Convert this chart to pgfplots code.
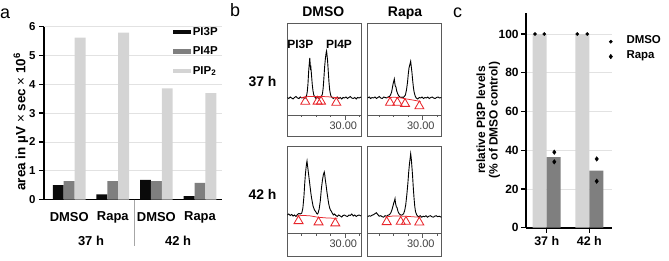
\documentclass[border=0pt]{standalone}
\usepackage{pgfplots}
\pgfplotsset{compat=1.18}
\usepackage{fontspec}
\setmainfont{Liberation Sans}

\definecolor{barblack}{HTML}{0A0A0A}
\definecolor{bargray}{HTML}{7F7F7F}
\definecolor{barlight}{HTML}{D4D4D4}
\definecolor{gridgray}{HTML}{E2E2E2}
\definecolor{peakred}{HTML}{E8252B}
\definecolor{framegray}{HTML}{5A5A5A}

\newcommand{\fs}[1]{\fontsize{#1}{#1}\selectfont}

\pgfplotsset{
  % upper part of a chromatogram box: the trace
  chrom/.style={scale only axis, anchor=south west, width=73.7bp,
    xtick=\empty, ytick=\empty,
    axis line style={framegray, line width=0.8bp}},
  % lower strip of a chromatogram box: the time scale
  strip/.style={scale only axis, anchor=south west, width=73.7bp,
    ymin=0, ymax=1, ytick=\empty,
    xtick={30}, xticklabels={30.00}, minor xtick={24,26,28,32},
    xtick pos=right, xticklabel pos=right, tick align=inside,
    major tick length=5bp, minor tick length=2.5bp,
    tick style={framegray, line width=0.7bp},
    xticklabel style={anchor=north, yshift=-3bp, xshift=-2bp, font=\fs{11}, text=black!75},
    axis line style={framegray, line width=0.8bp}},
  trace/.style={black, line width=0.9bp},
  redbase/.style={peakred, line width=0.75bp},
  redmarks/.style={peakred, only marks, mark=triangle, mark size=5.2bp,
    mark options={line width=0.85bp}},
}

\begin{document}
\begin{tikzpicture}
\useasboundingbox (0,0) rectangle (669bp,261bp);

% panel letters
\node[font=\fs{18}, anchor=base west, inner sep=0pt] at (0bp,242.7bp) {a};
\node[font=\fs{18}, anchor=base west, inner sep=0pt] at (230bp,244bp) {b};
\node[font=\fs{18}, anchor=base west, inner sep=0pt] at (453bp,243.5bp) {c};

% ---------------- panel a: peak areas ----------------
\begin{axis}[
  at={(44bp,61.5bp)}, anchor=south west, scale only axis,
  width=177.7bp, height=172.8bp, clip=false,
  xmin=0.422, xmax=4.498, ymin=0, ymax=6,
  axis lines=left, axis line style={-, line width=1.6bp},
  xtick={1,2,3,4}, xticklabels={DMSO,Rapa,DMSO,Rapa},
  xtick style={draw=none},
  ytick={0,...,6},
  tick align=outside, major tick length=5bp,
  ytick style={line width=1.3bp, black},
  ymajorgrids, grid style={gridgray, line width=0.7bp},
  /pgf/number format/assume math mode=true,
  yticklabel style={font=\bfseries\fs{11.5}},
  xticklabel style={font=\bfseries\fs{13}, yshift=-4bp},
  ylabel={area in µV {\mdseries ×} sec {\mdseries ×} 10\textsuperscript{6}},
  ylabel style={font=\bfseries\fs{13.5}, at={(axis description cs:-0.13,0.45)}, anchor=center},
  legend style={draw=none, fill=none, at={(axis description cs:0.707,1.02)}, anchor=north west,
    font=\bfseries\fs{11.5}, row sep=6bp},
  legend cell align=left,
  legend image code/.code={\fill[#1] (0bp,-2.2bp) rectangle (18bp,2.2bp);},
]
\addplot[ybar, bar width=10.9bp, bar shift=-10.9bp, fill=barblack, draw=none]
  coordinates {(1,0.50) (2,0.18) (3,0.68) (4,0.12)};
\addlegendentry{PI3P}
\addplot[ybar, bar width=10.9bp, bar shift=0bp, fill=bargray, draw=none]
  coordinates {(1,0.64) (2,0.64) (3,0.64) (4,0.58)};
\addlegendentry{PI4P}
\addplot[ybar, bar width=10.9bp, bar shift=10.9bp, fill=barlight, draw=none]
  coordinates {(1,5.62) (2,5.79) (3,3.86) (4,3.69)};
\addlegendentry{PIP\textsubscript{2}}
% time-point separator and group labels
\draw[gray!70, line width=0.6bp] (axis cs:2.5,0) -- ++(0bp,-46bp);
\node[font=\bfseries\fs{13}, anchor=base] at (axis cs:1.5,0) [yshift=-45.5bp] {37 h};
\node[font=\bfseries\fs{13}, anchor=base] at (axis cs:3.5,0) [yshift=-45.5bp] {42 h};
\end{axis}

% ---------------- panel b: chromatograms ----------------
\node[font=\bfseries\fs{14}, anchor=base] at (323.3bp,244.3bp) {DMSO};
\node[font=\bfseries\fs{14}, anchor=base] at (405bp,244.3bp) {Rapa};
\node[font=\bfseries\fs{14}, anchor=base] at (262.5bp,174.3bp) {37 h};
\node[font=\bfseries\fs{14}, anchor=base] at (262.5bp,61bp) {42 h};

% DMSO, 37 h
\begin{axis}[chrom, at={(287.3bp,146bp)}, height=91.7bp,
  xmin=22, xmax=32.17, ymin=-17, ymax=74.7]
\addplot[trace] coordinates {(22.0,0.5) (22.2,-0.5) (22.4,1) (22.6,0) (22.8,-1) (23.0,0.5) (23.2,1.5) (23.4,0) (23.6,-0.5) (23.8,1) (24.0,0) (24.2,0.5) (24.4,-0.5) (24.55,0.5) (24.65,2) (24.75,6) (24.85,14) (24.95,27) (25.05,36) (25.1,40) (25.15,35) (25.2,30) (25.25,31) (25.35,22) (25.45,13) (25.55,7) (25.65,3) (25.8,1) (25.95,-0.5) (26.1,0.5) (26.25,0) (26.4,-0.5) (26.55,0.5) (26.7,1.5) (26.85,4) (26.95,10) (27.05,20) (27.15,31) (27.25,39) (27.35,45) (27.42,47) (27.48,43) (27.55,38) (27.65,27) (27.75,16) (27.85,8) (27.95,4) (28.05,1.5) (28.2,0.5) (28.35,-0.5) (28.5,0.5) (28.7,0) (28.9,1) (29.1,-0.5) (29.3,0.5) (29.5,-1) (29.7,0.5) (29.9,0) (30.1,1) (30.3,-0.5) (30.5,0.5) (30.7,1.5) (30.9,0) (31.1,-0.5) (31.3,0.5) (31.5,-1) (31.7,0.5) (31.9,0) (32.17,1)};
\addplot[redbase] coordinates {(23.9,0.3) (24.6,1.3) (25.5,1.6) (26.5,1.5) (27.5,1.3) (28.5,0.6) (29.3,0)};
\addplot[redmarks] coordinates {(24.48,-3.7) (26.18,-3.5) (26.65,-3.5) (28.76,-4.7)};
\end{axis}
\begin{axis}[strip, at={(287.3bp,124.3bp)}, height=21.7bp, xmin=22, xmax=32.17]
\end{axis}
\node[font=\bfseries\fs{12}, anchor=base] at (300.3bp,212.7bp) {PI3P};
\node[font=\bfseries\fs{12}, anchor=base] at (339bp,212.7bp) {PI4P};

% Rapa, 37 h
\begin{axis}[chrom, at={(367.7bp,146bp)}, height=91.7bp,
  xmin=22.4, xmax=32.57, ymin=-17, ymax=74.7]
\addplot[trace] coordinates {(22.4,0) (22.6,1) (22.8,-0.5) (23.0,0.5) (23.2,0) (23.4,1) (23.6,-0.5) (23.8,0.5) (24.0,1.5) (24.2,0) (24.4,-0.5) (24.6,1) (24.8,0.5) (25.0,0) (25.2,1) (25.4,1.5) (25.55,3) (25.7,6) (25.8,10) (25.9,14) (26.0,17) (26.07,19) (26.12,16) (26.2,12) (26.3,11) (26.4,7) (26.55,4) (26.7,2) (26.85,1) (27.0,0.5) (27.15,1) (27.3,0.5) (27.45,1.5) (27.6,3) (27.75,8) (27.9,16) (28.0,24) (28.1,30) (28.2,33) (28.27,35) (28.33,36.7) (28.4,32) (28.5,26) (28.6,18) (28.7,11) (28.8,6) (28.95,2) (29.1,0) (29.3,-1) (29.5,0.5) (29.7,0) (29.9,1) (30.1,-0.5) (30.3,0.5) (30.5,0) (30.7,1) (30.9,-0.5) (31.1,0.5) (31.3,1) (31.5,0) (31.7,-0.5) (31.9,0.5) (32.1,1) (32.3,0) (32.57,0.5)};
\addplot[redbase] coordinates {(25.1,0.3) (26.0,0.8) (26.8,0.3) (27.6,-0.8) (28.6,-2) (29.7,-3.5)};
\addplot[redmarks] coordinates {(25.48,-4.6) (26.49,-4.6) (27.55,-5.8) (29.53,-8.2)};
\end{axis}
\begin{axis}[strip, at={(367.7bp,124.3bp)}, height=21.7bp, xmin=22.4, xmax=32.57]
\end{axis}

% DMSO, 42 h
\begin{axis}[chrom, at={(287.3bp,27.7bp)}, height=86.6bp,
  xmin=22, xmax=32.17, ymin=-17.3, ymax=69.3]
\addplot[trace] coordinates {(22.0,1) (22.2,2) (22.4,0.5) (22.6,1.5) (22.8,0) (23.0,1) (23.2,-0.5) (23.4,1.5) (23.6,2.5) (23.8,2) (24.0,3) (24.15,8) (24.3,20) (24.4,32) (24.5,42) (24.6,49) (24.67,53) (24.72,55) (24.78,51) (24.85,47) (24.95,41) (25.05,35) (25.15,29) (25.25,23) (25.35,18) (25.45,14) (25.55,10) (25.65,8) (25.75,6) (25.85,5) (25.95,4) (26.05,2.5) (26.15,2) (26.25,3) (26.4,7) (26.55,15) (26.7,27) (26.85,36) (26.97,41) (27.05,43) (27.1,44) (27.17,41) (27.25,36) (27.35,31) (27.45,25) (27.55,20) (27.65,15) (27.75,11) (27.85,8) (27.95,6) (28.05,5) (28.2,3) (28.35,1) (28.5,2) (28.7,0.5) (28.9,-0.5) (29.1,1) (29.3,0) (29.5,-1) (29.7,0.5) (29.9,1) (30.1,0) (30.3,-0.5) (30.5,1) (30.7,0.5) (30.9,2) (31.1,0) (31.3,1) (31.5,-0.5) (31.7,0.5) (31.9,1) (32.17,0)};
\addplot[redbase] coordinates {(23.3,0) (24.0,0.5) (25.0,0.3) (26.3,-1.3) (27.5,-2) (28.9,-2.3)};
\addplot[redmarks] coordinates {(23.55,-5) (26.31,-6.3) (28.62,-7.3)};
\end{axis}
\begin{axis}[strip, at={(287.3bp,4.3bp)}, height=23.4bp, xmin=22, xmax=32.17]
\end{axis}

% Rapa, 42 h
\begin{axis}[chrom, at={(367.7bp,27.7bp)}, height=86.6bp,
  xmin=22.4, xmax=32.57, ymin=-16.6, ymax=70]
\addplot[trace] coordinates {(22.4,0) (22.6,1) (22.8,0.5) (23.0,1.5) (23.2,2) (23.4,3) (23.6,4) (23.8,2) (24.0,0.5) (24.2,1) (24.4,0) (24.6,-0.5) (24.8,1) (25.0,0.5) (25.2,1.5) (25.4,2) (25.6,4) (25.75,7) (25.9,11) (26.0,14) (26.1,16) (26.17,18) (26.25,13) (26.35,10) (26.45,9) (26.55,6) (26.65,4) (26.75,3) (26.9,2) (27.05,1.5) (27.2,2) (27.35,3) (27.5,6) (27.65,12) (27.8,22) (27.95,34) (28.05,44) (28.15,52) (28.25,58) (28.33,63) (28.4,59) (28.5,50) (28.6,40) (28.7,28) (28.8,18) (28.9,10) (29.0,5) (29.15,2) (29.3,0.5) (29.45,0) (29.65,1) (29.85,-0.5) (30.05,0.5) (30.25,0) (30.45,1) (30.65,-0.5) (30.85,0.5) (31.05,1) (31.25,0) (31.45,-0.5) (31.65,0.5) (31.85,1) (32.05,0) (32.25,0.5) (32.57,-0.5)};
\addplot[redbase] coordinates {(24.8,-0.3) (26.0,0.8) (27.5,0.5) (29.7,-0.6)};
\addplot[redmarks] coordinates {(25.02,-5.3) (26.95,-5) (27.68,-5) (29.52,-5.7)};
\end{axis}
\begin{axis}[strip, at={(367.7bp,4.3bp)}, height=23.4bp, xmin=22.4, xmax=32.57]
\end{axis}

% ---------------- panel c: relative PI3P levels ----------------
\begin{axis}[
  at={(525.8bp,33.3bp)}, anchor=south west, scale only axis,
  width=85.9bp, height=214.4bp, clip=false,
  xmin=0.509, xmax=2.526, ymin=0, ymax=110.7,
  axis lines=left, axis line style={-, line width=1.6bp},
  xtick={1,2}, xticklabels={37 h,42 h},
  ytick={0,20,...,100},
  tick align=outside, major tick length=5bp,
  tick style={line width=1.3bp, black},
  ymajorgrids, grid style={gridgray, line width=0.7bp},
  /pgf/number format/assume math mode=true,
  yticklabel style={font=\bfseries\fs{12}, inner xsep=2bp},
  xticklabel style={font=\bfseries\fs{12.5}},
  ylabel={relative PI3P levels\\(\% of DMSO control)},
  ylabel style={align=center, font=\bfseries\fontsize{12}{12.5}\selectfont,
    at={(axis description cs:-0.4375,0.502)}, anchor=center},
  legend style={draw=none, fill=none, inner sep=0pt, at={(axis description cs:0.967,0.907)},
    anchor=north west, font=\bfseries\fs{11.5}, row sep=1.5bp,
    /tikz/every odd column/.append style={column sep=12bp}},
  legend cell align=left,
  legend image code/.code={\draw[#1] plot coordinates {(1.6bp,-1.5bp)};},
]
\addplot[ybar, bar width=14bp, bar shift=-7bp, fill=barlight, draw=none, forget plot]
  coordinates {(1,100) (2,100)};
\addplot[ybar, bar width=14bp, bar shift=7bp, fill=bargray, draw=none, forget plot]
  coordinates {(1,36.5) (2,29.5)};
\addplot[only marks, mark=*, mark size=1.6bp, black]
  coordinates {(0.725,100) (0.944,100) (1.718,100) (1.953,100)};
\addlegendentry{DMSO}
\addplot[only marks, mark=diamond*, mark size=2.3bp, black]
  coordinates {(1.178,39) (1.178,34) (2.174,35.5) (2.174,24)};
\addlegendentry{Rapa}
\end{axis}
\end{tikzpicture}
\end{document}
